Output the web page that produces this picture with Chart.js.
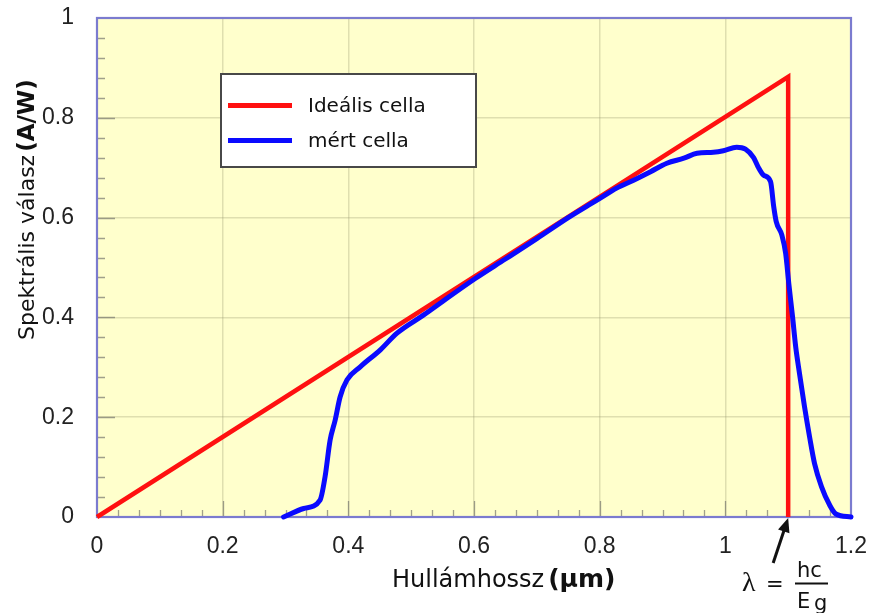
<!DOCTYPE html>
<html>
<head>
<meta charset="utf-8">
<script src="https://cdn.jsdelivr.net/npm/chart.js@4/dist/chart.umd.min.js"></script>
<style>
  html, body { margin: 0; padding: 0; background: #ffffff; }
  #wrap { width: 872px; height: 613px; }
</style>
</head>
<body>
<div id="wrap"><canvas id="c" width="872" height="613"></canvas></div>
<script>
// Axis ticks
const xTickValues = [0, 0.2, 0.4, 0.6, 0.8, 1, 1.2];
const yTickValues = [0, 0.2, 0.4, 0.6, 0.8, 1];

// Series names
const seriesLabels = ['Ideális cella', 'mért cella'];

// Ideal cell: linear rise up to the band-gap wavelength, then a sharp cut-off
const idealX = [0, 1.1, 1.1];
const idealY = [0, 0.882, 0];

// Measured cell response
const measuredX = [0.297, 0.329, 0.355, 0.363, 0.371, 0.379, 0.387, 0.398, 0.419, 0.451,
                   0.477, 0.52, 0.55, 0.602, 0.65, 0.70, 0.75, 0.785, 0.801, 0.827,
                   0.854, 0.881, 0.907, 0.934, 0.955, 0.981, 0.997, 1.018, 1.032, 1.045,
                   1.052, 1.061, 1.072, 1.077, 1.081, 1.090, 1.096, 1.101, 1.107, 1.112,
                   1.118, 1.126, 1.134, 1.142, 1.153, 1.166, 1.176, 1.2];
const measuredY = [0, 0.017, 0.034, 0.081, 0.154, 0.194, 0.241, 0.275, 0.301, 0.335,
                   0.368, 0.405, 0.432, 0.478, 0.517, 0.558, 0.600, 0.627, 0.639, 0.659,
                   0.675, 0.692, 0.709, 0.719, 0.729, 0.731, 0.734, 0.741, 0.737, 0.720,
                   0.702, 0.685, 0.672, 0.622, 0.592, 0.565, 0.528, 0.468, 0.401, 0.341,
                   0.288, 0.221, 0.161, 0.107, 0.061, 0.024, 0.006, 0];

// Axis titles
const xTitle = 'Hullámhossz';
const xUnit = '(μm)';
const yTitle = 'Spektrális válasz';
const yUnit = '(A/W)';

const toPoints = (xs, ys) => xs.map((x, i) => ({ x: x, y: ys[i] }));
const fmt = v => String(+v.toFixed(2));

const SANS = '"DejaVu Sans", sans-serif';
const TICKFONT = '"Liberation Sans", Arial, sans-serif';

const plotDecor = {
  id: 'plotDecor',
  beforeDraw(chart) {
    const { ctx, chartArea: a } = chart;
    ctx.save();
    ctx.fillStyle = '#ffffcc';
    ctx.fillRect(a.left, a.top, a.right - a.left, a.bottom - a.top);
    ctx.restore();
  },
  beforeDatasetsDraw(chart) {
    const { ctx, chartArea: a, scales } = chart;
    const xs = scales.x, ys = scales.y;
    ctx.save();
    ctx.strokeStyle = 'rgba(120,120,110,0.7)';
    ctx.lineWidth = 1.3;
    ctx.beginPath();
    // inward ticks on the left axis: minor every 0.04
    for (let i = 1; i < 25; i++) {
      const py = Math.round(ys.getPixelForValue(i * 0.04)) + 0.5;
      const len = (i % 5 === 0) ? 18 : 8;
      ctx.moveTo(a.left, py);
      ctx.lineTo(a.left + len, py);
    }
    // inward ticks on the bottom axis: minor every 1/30
    for (let i = 1; i < 36; i++) {
      const px = Math.round(xs.getPixelForValue(i / 30)) + 0.5;
      const len = (i % 6 === 0) ? 16 : 7;
      ctx.moveTo(px, a.bottom);
      ctx.lineTo(px, a.bottom - len);
    }
    ctx.stroke();
    // plot frame
    ctx.strokeStyle = '#7b7bcf';
    ctx.lineWidth = 2.2;
    ctx.strokeRect(a.left, a.top, a.right - a.left, a.bottom - a.top);
    ctx.restore();
  },
  afterDraw(chart) {
    const { ctx } = chart;
    const ds = chart.data.datasets;
    ctx.save();

    // legend
    ctx.fillStyle = '#ffffff';
    ctx.fillRect(221, 74, 255, 93);
    ctx.strokeStyle = '#484848';
    ctx.lineWidth = 2;
    ctx.strokeRect(221, 74, 255, 93);
    const rows = [{ d: ds[0], y: 105.5 }, { d: ds[1], y: 140.5 }];
    ctx.font = '20px ' + SANS;
    ctx.textBaseline = 'middle';
    ctx.textAlign = 'left';
    rows.forEach(r => {
      ctx.strokeStyle = r.d.borderColor;
      ctx.lineWidth = 5;
      ctx.beginPath();
      ctx.moveTo(228, r.y);
      ctx.lineTo(292, r.y);
      ctx.stroke();
      ctx.fillStyle = '#111111';
      ctx.fillText(r.d.label, 308, r.y + 1);
    });

    // x axis title
    ctx.textBaseline = 'alphabetic';
    ctx.fillStyle = '#111111';
    ctx.font = '24px ' + SANS;
    ctx.fillText(xTitle, 392, 587);
    const w1 = ctx.measureText(xTitle).width;
    ctx.font = 'bold 25px ' + SANS;
    ctx.fillText(xUnit, 392 + w1 + 4, 587);

    // y axis title
    ctx.save();
    ctx.translate(34, 340);
    ctx.rotate(-Math.PI / 2);
    ctx.font = '22px ' + SANS;
    ctx.fillText(yTitle, 0, 0);
    const w2 = ctx.measureText(yTitle).width;
    ctx.font = 'bold 23px ' + SANS;
    ctx.fillText(yUnit, w2 + 3, 0);
    ctx.restore();

    // cut-off wavelength annotation
    const tipX = chart.scales.x.getPixelForValue(idealX[1]);
    const tipY = chart.scales.y.getPixelForValue(0) + 1;
    const tailX = tipX - 15, tailY = tipY + 45;
    const ang = Math.atan2(tipY - tailY, tipX - tailX);
    ctx.strokeStyle = '#111111';
    ctx.fillStyle = '#111111';
    ctx.lineWidth = 3;
    ctx.beginPath();
    ctx.moveTo(tailX, tailY);
    ctx.lineTo(tipX - 10 * Math.cos(ang), tipY - 10 * Math.sin(ang));
    ctx.stroke();
    ctx.beginPath();
    ctx.moveTo(tipX, tipY);
    ctx.lineTo(tipX - 14 * Math.cos(ang) + 6 * Math.sin(ang), tipY - 14 * Math.sin(ang) - 6 * Math.cos(ang));
    ctx.lineTo(tipX - 14 * Math.cos(ang) - 6 * Math.sin(ang), tipY - 14 * Math.sin(ang) + 6 * Math.cos(ang));
    ctx.closePath();
    ctx.fill();

    ctx.font = '28px "Liberation Serif", serif';
    ctx.fillText('λ', 742, 591);
    ctx.font = '21px ' + SANS;
    ctx.fillText('=', 766, 591);
    ctx.fillText('hc', 797, 577);
    ctx.fillText('E', 797, 608);
    ctx.fillText('g', 814, 610);
    ctx.lineWidth = 2;
    ctx.beginPath();
    ctx.moveTo(795, 583.5);
    ctx.lineTo(828, 583.5);
    ctx.stroke();

    ctx.restore();
  }
};

new Chart(document.getElementById('c'), {
  type: 'line',
  data: {
    datasets: [
      {
        label: seriesLabels[0],
        data: toPoints(idealX, idealY),
        borderColor: '#ff1010',
        borderWidth: 4.5,
        borderJoinStyle: 'miter',
        borderCapStyle: 'butt',
        pointRadius: 0,
        tension: 0,
        clip: false,
        order: 2
      },
      {
        label: seriesLabels[1],
        data: toPoints(measuredX, measuredY),
        borderColor: '#0a0aff',
        borderWidth: 5,
        borderJoinStyle: 'round',
        borderCapStyle: 'round',
        pointRadius: 0,
        cubicInterpolationMode: 'monotone',
        clip: false,
        order: 1
      }
    ]
  },
  options: {
    responsive: false,
    animation: false,
    events: [],
    layout: { padding: { top: 18, right: 21, left: 0, bottom: 0 } },
    plugins: { legend: { display: false }, tooltip: { enabled: false }, title: { display: false } },
    scales: {
      x: {
        type: 'linear',
        min: 0,
        max: 1.2,
        afterFit: s => { s.height = 96; s.paddingLeft = 0; s.paddingRight = 0; },
        afterBuildTicks: s => { s.ticks = xTickValues.map(v => ({ value: v })); },
        grid: { color: 'rgba(150,150,110,0.3)', lineWidth: 1.5, drawTicks: false },
        border: { display: false },
        ticks: {
          padding: 16,
          color: '#222222',
          font: { family: TICKFONT, size: 23 },
          maxRotation: 0,
          autoSkip: false,
          callback: v => fmt(v)
        }
      },
      y: {
        type: 'linear',
        min: 0,
        max: 1,
        afterFit: s => { s.width = 97; s.paddingTop = 0; s.paddingBottom = 0; },
        afterBuildTicks: s => { s.ticks = yTickValues.map(v => ({ value: v })); },
        grid: { color: 'rgba(150,150,110,0.3)', lineWidth: 1.5, drawTicks: false },
        border: { display: false },
        ticks: {
          padding: 23,
          color: '#222222',
          font: { family: TICKFONT, size: 23 },
          autoSkip: false,
          callback: v => fmt(v)
        }
      }
    }
  },
  plugins: [plotDecor]
});
</script>
</body>
</html>
